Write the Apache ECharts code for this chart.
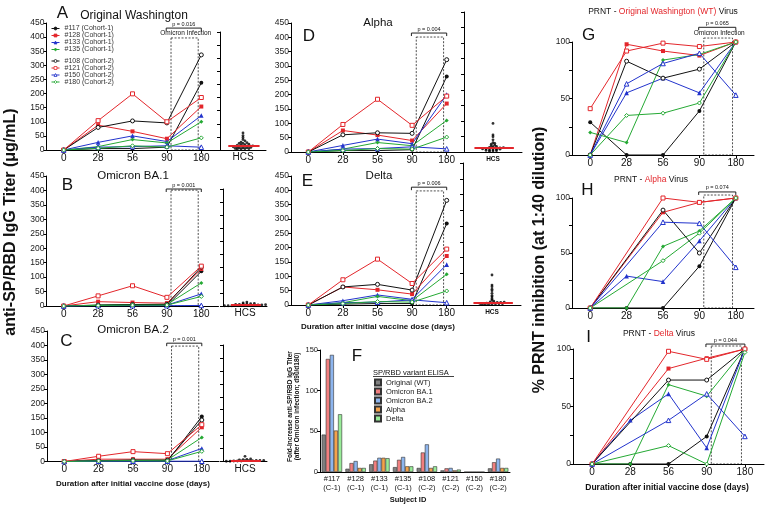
<!DOCTYPE html>
<html><head><meta charset="utf-8">
<script src="https://cdn.jsdelivr.net/npm/echarts@6/dist/echarts.min.js"></script>
<style>html,body{margin:0;padding:0;background:#fff}#c{width:765px;height:506px}</style>
</head><body><div id="c"></div>
<script>
const FONT = '"Liberation Sans", Arial, Helvetica, sans-serif';

// ---------- data ----------
const days = ['0', '28', '56', '90', '180'];
const subjects = ['#117 (Cohort-1)', '#128 (Cohort-1)', '#133 (Cohort-1)', '#135 (Cohort-1)',
                  '#108 (Cohort-2)', '#121 (Cohort-2)', '#150 (Cohort-2)', '#180 (Cohort-2)'];

// anti-SP/RBD IgG titer (ug/mL); rows follow `subjects`, columns follow `days`
const elisaWashington = [
  [0, 5, 5, 10, 238], [0, 88, 66, 40, 154], [0, 27, 50, 30, 122], [0, 12, 37, 25, 100],
  [0, 80, 103, 96, 337], [0, 104, 199, 100, 186], [0, 10, 12, 15, 10], [0, 6, 15, 10, 43]
];
const elisaBA1 = [
  [0, 2, 2, 1, 120], [0, 15, 12, 10, 128], [0, 2, 4, 3, 42], [0, 3, 5, 5, 80],
  [0, 3, 5, 6, 135], [0, 35, 70, 30, 138], [0, 1, 1, 1, 2], [0, 2, 3, 3, 33]
];
const elisaBA2 = [
  [0, 1, 1, 1, 155], [0, 8, 8, 8, 118], [0, 2, 3, 3, 45], [0, 3, 4, 5, 83],
  [0, 3, 5, 4, 143], [0, 18, 34, 27, 127], [0, 1, 1, 1, 1], [0, 2, 3, 2, 35]
];
const elisaAlpha = [
  [0, 5, 5, 8, 263], [0, 75, 59, 40, 169], [0, 23, 45, 29, 200], [0, 10, 33, 22, 110],
  [0, 60, 67, 65, 322], [0, 96, 184, 93, 195], [0, 10, 12, 18, 11], [0, 5, 12, 10, 52]
];
const elisaDelta = [
  [0, 3, 5, 5, 284], [0, 63, 53, 38, 171], [0, 15, 35, 20, 141], [0, 8, 30, 15, 107],
  [0, 63, 72, 52, 365], [0, 88, 160, 75, 195], [0, 8, 10, 18, 8], [0, 5, 12, 10, 49]
];

// healthy control sera (HCS)
const hcsWashington = [65, 55, 48, 40, 35, 30, 28, 25, 22, 20, 20, 18, 16, 15, 15, 14, 12, 12, 10, 9, 8, 8, 6, 5, 5, 4, 3, 25];
const hcsBA1 = [15, 12, 10, 9, 8, 8, 6, 6, 5, 5, 4, 4, 3, 3, 3, 2, 2, 2, 1, 1, 1, 0.5];
const hcsBA2 = [20, 10, 8, 7, 6, 5, 5, 4, 4, 4, 3, 3, 3, 2, 2, 2, 1, 1, 1, 0.5];
const hcsAlpha = [92, 55, 49, 39, 30, 28, 25, 22, 20, 18, 16, 15, 14, 13, 12, 12, 11, 10, 10, 9, 8, 7, 6, 5, 4, 3, 2];
const hcsDelta = [95, 63, 58, 50, 45, 37, 30, 26, 20, 16, 12, 10, 9, 8, 8, 7, 6, 6, 5, 5, 4, 4, 3, 3, 2, 2, 1];

// % PRNT inhibition at 1:40 dilution (null = not plotted)
const prntWT = [
  [29, 0, 0, 39, 100], [0, 98, 92, 88, 100], [0, 55, 68, 55, 100], [20, 11, 84, 89, 100],
  [0, 83, 68, 76, 100], [41, 92, 99, 96, 100], [0, 63, 81, 90, 53], [0, 35, 37, 46, 100]
];
const prntAlpha = [
  [0, 0, 0, 38, 100], [0, null, 87, 96, 100], [0, 29, 24, 61, 100], [0, 0, 56, 70, 100],
  [0, null, 89, 50, 100], [0, null, 100, 96, 100], [0, null, 78, 77, 37], [0, null, 43, 68, 100]
];
const prntDelta = [
  [0, 0, 0, 24, 100], [0, null, 83, 92, 100], [0, 38, 61, 14, 100], [0, 0, 69, 59, 100],
  [0, null, 73, 73, 100], [0, null, 98, 91, 100], [0, null, 38, 61, 24], [0, null, 16, 0, 97]
];

// fold increase d90 -> d180
const foldIds = ['#117\n(C-1)', '#128\n(C-1)', '#133\n(C-1)', '#135\n(C-1)', '#108\n(C-2)', '#121\n(C-2)', '#150\n(C-2)', '#180\n(C-2)'];
const foldVariants = ['Original (WT)', 'Omicron BA.1', 'Omicron BA.2', 'Alpha', 'Delta'];
const foldWT = [46, 4, 9.5, 6, 5, 2, 0, 4.5];
const foldBA1 = [139, 11, 14, 15, 24, 4.5, 0, 12];
const foldBA2 = [144, 13.5, 17.5, 18.5, 34, 5, 0, 16.5];
const foldAlpha = [51, 5, 17.5, 7, 5, 2, 0, 5];
const foldDelta = [71, 5, 17, 7, 7, 3, 0, 5];

const pValues = ['p = 0.016', 'p = 0.001', 'p = 0.001', 'p = 0.004', 'p = 0.006', 'p = 0.065', 'p = 0.074', 'p = 0.044'];
const elisaTicks = [0, 450, 50];
const prntTicks = [0, 100, 25];
const foldTicks = [0, 150, 50];

// ---------- styling ----------
const RED = '#e3262b', BLUE = '#2233cc', GREEN = '#25a934', BLACK = '#111111';
const subjStyle = [
  {c: BLACK, s: 'circle', open: false}, {c: RED, s: 'rect', open: false},
  {c: BLUE, s: 'triangle', open: false}, {c: GREEN, s: 'diamond', open: false},
  {c: BLACK, s: 'circle', open: true}, {c: RED, s: 'rect', open: true},
  {c: BLUE, s: 'triangle', open: true}, {c: GREEN, s: 'diamond', open: true}
];
const foldColors = ['#808080', '#f17f7f', '#8db5ee', '#f5a24a', '#98ec98'];

const grids = [
  {left: 46.5, top: 23, width: 172, height: 127},   // 0 A
  {left: 46.5, top: 176, width: 172, height: 130},  // 1 B
  {left: 47, top: 331, width: 172, height: 130.5},  // 2 C
  {left: 291, top: 23, width: 173, height: 129},    // 3 D
  {left: 291, top: 176, width: 173, height: 129},   // 4 E
  {left: 220, top: 32, width: 46, height: 118},     // 5 A HCS
  {left: 223, top: 189, width: 44, height: 117},    // 6 B HCS
  {left: 223, top: 345, width: 44, height: 116.5},  // 7 C HCS
  {left: 464, top: 12, width: 58, height: 140},     // 8 D HCS
  {left: 463, top: 163, width: 58, height: 142},    // 9 E HCS
  {left: 320, top: 350, width: 190, height: 122},   // 10 F
  {left: 572, top: 42, width: 182, height: 113},    // 11 G
  {left: 572, top: 198, width: 182, height: 110},   // 12 H
  {left: 573, top: 349, width: 191, height: 115}    // 13 I
].map(g => Object.assign({outerBoundsMode: 'none', containLabel: false}, g));

const axisLine = {show: true, lineStyle: {color: '#000', width: 1}};
const xAxes = [], yAxes = [], series = [];

function catX(g, fs) {
  return {type: 'category', gridIndex: g, data: days, boundaryGap: true,
    axisLine: axisLine, axisTick: {show: true, alignWithLabel: true, length: 3, lineStyle: {color: '#000'}},
    axisLabel: {interval: 0, fontSize: fs, color: '#111', margin: 3, fontFamily: FONT}, splitLine: {show: false}};
}
function valY(g, t, fs, fmt) {
  return {type: 'value', gridIndex: g, min: t[0], max: t[1], interval: t[2],
    axisLine: axisLine, axisTick: {show: true, length: 3, lineStyle: {color: '#000'}},
    axisLabel: {fontSize: fs, color: '#222', margin: 2, fontFamily: FONT, formatter: fmt},
    splitLine: {show: false}};
}
function lineSeries(rows, g) {
  rows.forEach((vals, i) => {
    const st = subjStyle[i];
    series.push({type: 'line', name: subjects[i], xAxisIndex: g, yAxisIndex: g, data: vals,
      symbol: st.s, symbolSize: st.s === 'triangle' ? 4.6 : 4, showSymbol: true, connectNulls: true,
      lineStyle: {color: st.c, width: 1},
      itemStyle: {color: st.open ? '#ffffff' : st.c, borderColor: st.c, borderWidth: st.open ? 1 : 0},
      emphasis: {disabled: true}});
  });
}
function median(a) {
  const s = a.slice().sort((x, y) => x - y), n = s.length;
  return n % 2 ? s[(n - 1) / 2] : (s[n / 2 - 1] + s[n / 2]) / 2;
}
function swarm(values, binSize, step) {
  const sorted = values.slice().sort((a, b) => a - b), bins = {};
  sorted.forEach(v => { const k = Math.floor(v / binSize); (bins[k] = bins[k] || []).push(v); });
  const pts = [];
  Object.keys(bins).forEach(k => bins[k].forEach((v, j) => pts.push([5 + (j - (bins[k].length - 1) / 2) * step, v])));
  return pts;
}

// ELISA panels A-E
[elisaWashington, elisaBA1, elisaBA2, elisaAlpha, elisaDelta].forEach((rows, g) => {
  xAxes.push(catX(g, 10));
  yAxes.push(valY(g, elisaTicks, 8.5));
  lineSeries(rows, g);
});
// HCS panels
[hcsWashington, hcsBA1, hcsBA2, hcsAlpha, hcsDelta].forEach((vals, k) => {
  const g = 5 + k, small = k >= 3;
  xAxes.push({type: 'value', gridIndex: g, min: 0, max: 10, axisLine: axisLine,
    axisTick: {show: false}, axisLabel: {show: false}, splitLine: {show: false},
    name: 'HCS', nameLocation: 'middle', nameGap: small ? 3.5 : 2.5,
    nameTextStyle: {fontSize: small ? 6.5 : 10, fontWeight: small ? 'bold' : 'normal', color: '#111', fontFamily: FONT}});
  yAxes.push(Object.assign(valY(g, elisaTicks, 8), {axisLabel: {show: false}}));
  const med = median(vals);
  series.push({type: 'scatter', xAxisIndex: g, yAxisIndex: g, data: swarm(vals, small ? 5 : 6, small ? 0.6 : 0.85),
    symbol: 'circle', symbolSize: 2.8, itemStyle: {color: '#000'}, emphasis: {disabled: true}, z: 3,
    markLine: {silent: true, symbol: 'none', label: {show: false}, animation: false,
      lineStyle: {color: RED, width: 2, type: 'solid'},
      data: [[{coord: [1.8, med]}, {coord: [8.6, med]}]]}});
});
// F fold increase
xAxes.push({type: 'category', gridIndex: 10, data: foldIds, boundaryGap: true, axisLine: axisLine,
  axisTick: {show: false}, axisLabel: {interval: 0, fontSize: 7.5, lineHeight: 9.5, color: '#111', margin: 2, fontFamily: FONT}});
yAxes.push(valY(10, foldTicks, 7.5));
[foldWT, foldBA1, foldBA2, foldAlpha, foldDelta].forEach((vals, i) => {
  series.push({type: 'bar', name: foldVariants[i], xAxisIndex: 10, yAxisIndex: 10, data: vals,
    barGap: '0%', barCategoryGap: '14%',
    itemStyle: {color: foldColors[i], borderColor: '#333', borderWidth: 0.6}, emphasis: {disabled: true}});
});
// PRNT panels G-I
[prntWT, prntAlpha, prntDelta].forEach((rows, k) => {
  const g = 11 + k;
  xAxes.push(catX(g, 10));
  yAxes.push(valY(g, prntTicks, 8.5, v => (v % 50 === 0 ? String(v) : '')));
  lineSeries(rows, g);
});

const legendText = {fontSize: 7, lineHeight: 6.7, color: '#333', fontFamily: FONT};
const subjLegend = {orient: 'vertical', left: 51, itemWidth: 8, itemHeight: 3.6, itemGap: 0, padding: 0,
  selectedMode: false, textStyle: legendText, itemStyle: {borderWidth: 0.8}, lineStyle: {width: 1}};
const option = {
  animation: false,
  backgroundColor: '#fff',
  textStyle: {fontFamily: FONT},
  grid: grids, xAxis: xAxes, yAxis: yAxes, series: series,
  legend: [
    Object.assign({data: subjects.slice(0, 4), top: 25}, subjLegend),
    Object.assign({data: subjects.slice(4), top: 57.5}, subjLegend),
    {data: foldVariants, left: 374, top: 378, orient: 'vertical', itemWidth: 6, itemHeight: 6, icon: 'rect',
      itemGap: 0, padding: 0, selectedMode: false, textStyle: {fontSize: 7.5, lineHeight: 9, color: '#222', fontFamily: FONT}}
  ]
};

const chart = echarts.init(document.getElementById('c'), null, {renderer: 'canvas'});
chart.setOption(option);

// ---------- annotations ----------
function txt(text, x, y, font, opts) {
  return Object.assign({type: 'text', x: x, y: y, silent: true,
    style: Object.assign({text: text, font: font, fill: '#111', align: 'center', verticalAlign: 'middle',
      textAlign: 'center', textVerticalAlign: 'middle'}, opts || {})});
}
const G = [];
[['A', 62.5, 13.5], ['B', 67.5, 185], ['C', 66.5, 341.5], ['D', 309, 36.5], ['E', 307.5, 181],
 ['F', 357, 356.5], ['G', 588.5, 35], ['H', 587.5, 190], ['I', 588.5, 337.5]].forEach(l =>
  G.push(txt(l[0], l[1], l[2], '17px ' + FONT)));
G.push(txt('Original Washington', 134, 16, '12px ' + FONT));
G.push(txt('Omicron BA.1', 133, 176, '11.5px ' + FONT));
G.push(txt('Omicron BA.2', 133, 330, '11.5px ' + FONT));
G.push(txt('Alpha', 378, 23, '11.5px ' + FONT));
G.push(txt('Delta', 379, 176, '11.5px ' + FONT));
function prntTitle(name, x, y) {
  return txt('{a|PRNT - }{r|' + name + '}{a| Virus}', x, y, '8.5px ' + FONT,
    {rich: {a: {fill: '#111', fontSize: 8.5, fontFamily: FONT}, r: {fill: RED, fontSize: 8.5, fontFamily: FONT}}});
}
G.push(prntTitle('Original Washington (WT)', 663, 12));
G.push(prntTitle('Alpha', 651, 180));
G.push(prntTitle('Delta', 659, 334));
const durTitle = 'Duration after initial vaccine dose (days)';
G.push(txt(durTitle, 133, 484, 'bold 8px ' + FONT));
G.push(txt(durTitle, 378, 327, 'bold 8px ' + FONT));
G.push(txt(durTitle, 667, 488, 'bold 8.5px ' + FONT));
G.push(txt('Subject ID', 408, 500, 'bold 7.5px ' + FONT));
G.push(Object.assign(txt('anti-SP/RBD IgG Titer (\u03bcg/mL)', 11, 222, 'bold 16px ' + FONT), {rotation: Math.PI / 2}));
G.push(Object.assign(txt('% PRNT inhibition (at 1:40 dilution)', 540, 260, 'bold 16px ' + FONT), {rotation: Math.PI / 2}));
G.push(Object.assign(txt('Fold-Increase anti-SP/RBD IgG Titer\n(after Omicron infection; d90/d180)', 293.5, 406.5,
  'bold 6.5px ' + FONT, {lineHeight: 6.5}), {rotation: Math.PI / 2}));
G.push(txt('SP/RBD variant ELISA', 373, 372.5, '7.5px ' + FONT, {align: 'left', textAlign: 'left'}));
G.push({type: 'line', silent: true, shape: {x1: 373, y1: 376.5, x2: 454, y2: 376.5}, style: {stroke: '#111', lineWidth: 0.8}});

// p-value brackets & Omicron infection windows, placed through the axes
const brackets = [
  {g: 0, yb: 432, yr: 397, inf: true}, {g: 1, yb: 405, yr: 401}, {g: 2, yb: 408, yr: 398},
  {g: 3, yb: 415, yr: 401}, {g: 4, yb: 411, yr: 398},
  {g: 11, yb: 113, yr: 103.5, inf: true}, {g: 12, yb: 105.5, yr: 102.7}, {g: 13, yb: 104.3, yr: 102.6}
];
brackets.forEach((b, i) => {
  const x90 = chart.convertToPixel({xAxisIndex: b.g}, 3);
  const x180 = chart.convertToPixel({xAxisIndex: b.g}, 4);
  const band = x180 - x90;
  const yb = chart.convertToPixel({yAxisIndex: b.g}, b.yb);
  const yr = chart.convertToPixel({yAxisIndex: b.g}, b.yr);
  const y0 = chart.convertToPixel({yAxisIndex: b.g}, 0);
  const bl = x90 - 0.02 * band, br = x180;
  G.push({type: 'polyline', silent: true, shape: {points: [[bl, yb + 3], [bl, yb], [br, yb], [br, yb + 3]]},
    style: {stroke: '#222', lineWidth: 1, fill: 'none'}});
  G.push(txt(pValues[i], (bl + br) / 2, yb - 1, '5.5px ' + FONT, {verticalAlign: 'bottom', textVerticalAlign: 'bottom'}));
  const rl = x90 + 0.12 * band, rr = x180 - 0.09 * band;
  G.push({type: 'rect', silent: true, shape: {x: rl, y: yr, width: rr - rl, height: y0 - yr},
    style: {stroke: '#222', lineWidth: 0.8, lineDash: [2, 1.5], fill: 'none'}});
  if (b.inf) G.push(txt('Omicron Infection', (bl + br) / 2 + 2, (yb + yr) / 2 + 0.5, '6.5px ' + FONT));
});
chart.setOption({graphic: G});
</script>
</body></html>
